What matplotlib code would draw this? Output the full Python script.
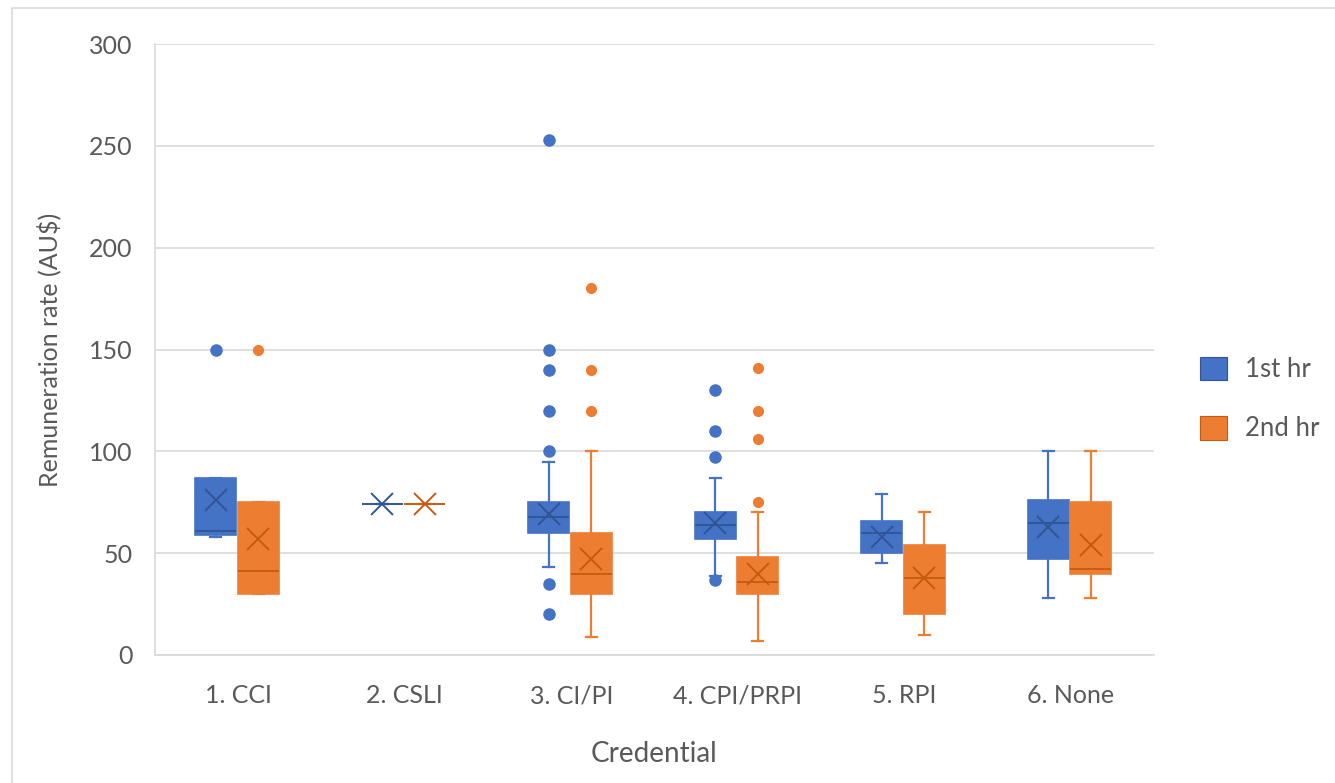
import matplotlib
matplotlib.use("Agg")
import matplotlib.pyplot as plt
from matplotlib.patches import Patch, Rectangle

plt.rcParams['font.family'] = ['Lato', 'DejaVu Sans']

categories = ["1. CCI", "2. CSLI", "3. CI/PI", "4. CPI/PRPI", "5. RPI", "6. None"]
series_names = ["1st hr", "2nd hr"]

# Summary statistics per credential: lower whisker, Q1, median, Q3, upper whisker, mean, outliers
first_whislo = [58, 74, 43, 39, 45, 28]
first_q1 = [59, 74, 60, 57, 50, 47]
first_med = [61, 74, 68, 64, 60, 65]
first_q3 = [87, 74, 75, 70, 66, 76]
first_whishi = [87, 74, 95, 87, 79, 100]
first_mean = [76, 74, 69, 65, 58, 63]
first_fliers = [[150], [], [253, 150, 140, 120, 100, 35, 20], [130, 110, 97, 37], [], []]

second_whislo = [30, 74, 9, 7, 10, 28]
second_q1 = [30, 74, 30, 30, 20, 40]
second_med = [41, 74, 40, 36, 38, 42]
second_q3 = [75, 74, 60, 48, 54, 75]
second_whishi = [75, 74, 100, 70, 70, 100]
second_mean = [57, 74, 47, 40, 38, 54]
second_fliers = [[150], [], [180, 140, 120], [141, 120, 106, 75], [], []]

y_ticks = [0, 50, 100, 150, 200, 250, 300]

BLUE = "#4472C4"
BLUE_DARK = "#2F5597"
ORANGE = "#ED7D31"
ORANGE_DARK = "#C55A11"
TEXT = "#595959"
GRID = "#D9D9D9"


def make_stats(whislo, q1, med, q3, whishi, mean, fliers):
    return [dict(whislo=a, q1=b, med=c, q3=d, whishi=e, mean=f, fliers=g)
            for a, b, c, d, e, f, g in zip(whislo, q1, med, q3, whishi, mean, fliers)]


fig = plt.figure(figsize=(13.35, 7.83), dpi=100)
ax = fig.add_axes([155 / 1335, 128 / 783, 999 / 1335, 611 / 783])

# light frame along the top and left of the figure
fig.patches.append(Rectangle((12 / 1335, -0.1), 1.2, 1.1 - 8 / 783,
                             transform=fig.transFigure, fill=False,
                             edgecolor="#D9D9D9", lw=1.2))

width = 0.245
series = [
    (make_stats(first_whislo, first_q1, first_med, first_q3, first_whishi, first_mean, first_fliers),
     -0.135, BLUE, BLUE_DARK, 8),
    (make_stats(second_whislo, second_q1, second_med, second_q3, second_whishi, second_mean, second_fliers),
     0.12, ORANGE, ORANGE_DARK, 7),
]

for stats, offset, col, dark, fms in series:
    pos = [i + offset for i in range(len(categories))]
    ax.bxp(stats, positions=pos, widths=width, patch_artist=True,
           showmeans=True, capwidths=0.065, manage_ticks=False,
           boxprops=dict(facecolor=col, edgecolor=col, lw=1.2),
           medianprops=dict(color=dark, lw=1.3),
           whiskerprops=dict(color=col, lw=1.6),
           capprops=dict(color=col, lw=1.6),
           meanprops=dict(marker="x", markeredgecolor=dark, markersize=16,
                          markeredgewidth=1.4, linestyle="none"),
           flierprops=dict(marker="o", markerfacecolor=col, markeredgecolor=col,
                           markersize=fms, linestyle="none"),
           zorder=3)

ax.set_xlim(-0.5, len(categories) - 0.5)
ax.set_ylim(0, 300)
ax.set_yticks(y_ticks)
ax.set_xticks(range(len(categories)))
ax.set_xticklabels(categories)
ax.yaxis.grid(True, color=GRID, lw=1.2, zorder=0)
ax.set_axisbelow(True)
ax.tick_params(axis="both", length=0, colors=TEXT, labelsize=18)
ax.tick_params(axis="y", pad=16)
ax.tick_params(axis="x", pad=21)

for side in ["top", "right"]:
    ax.spines[side].set_visible(False)
ax.spines["left"].set_color(GRID)
ax.spines["bottom"].set_color(GRID)
ax.spines["left"].set_linewidth(1.2)
ax.spines["bottom"].set_linewidth(1.2)

ax.set_ylabel("Remuneration rate (AU$)", fontsize=18, color=TEXT, labelpad=20)
ax.set_xlabel("Credential", fontsize=20, color=TEXT, labelpad=24)

handles = [Patch(facecolor=BLUE, edgecolor=BLUE_DARK, lw=0.8),
           Patch(facecolor=ORANGE, edgecolor=ORANGE_DARK, lw=0.8)]
leg = fig.legend(handles, series_names, loc="center left",
                 bbox_to_anchor=(1190 / 1335, 1 - 399 / 783), frameon=False,
                 fontsize=18.5, handlelength=1.05, handleheight=1.05,
                 handletextpad=0.7, labelspacing=1.3, borderaxespad=0)
for t in leg.get_texts():
    t.set_color(TEXT)

fig.savefig("out.png", dpi=100)
